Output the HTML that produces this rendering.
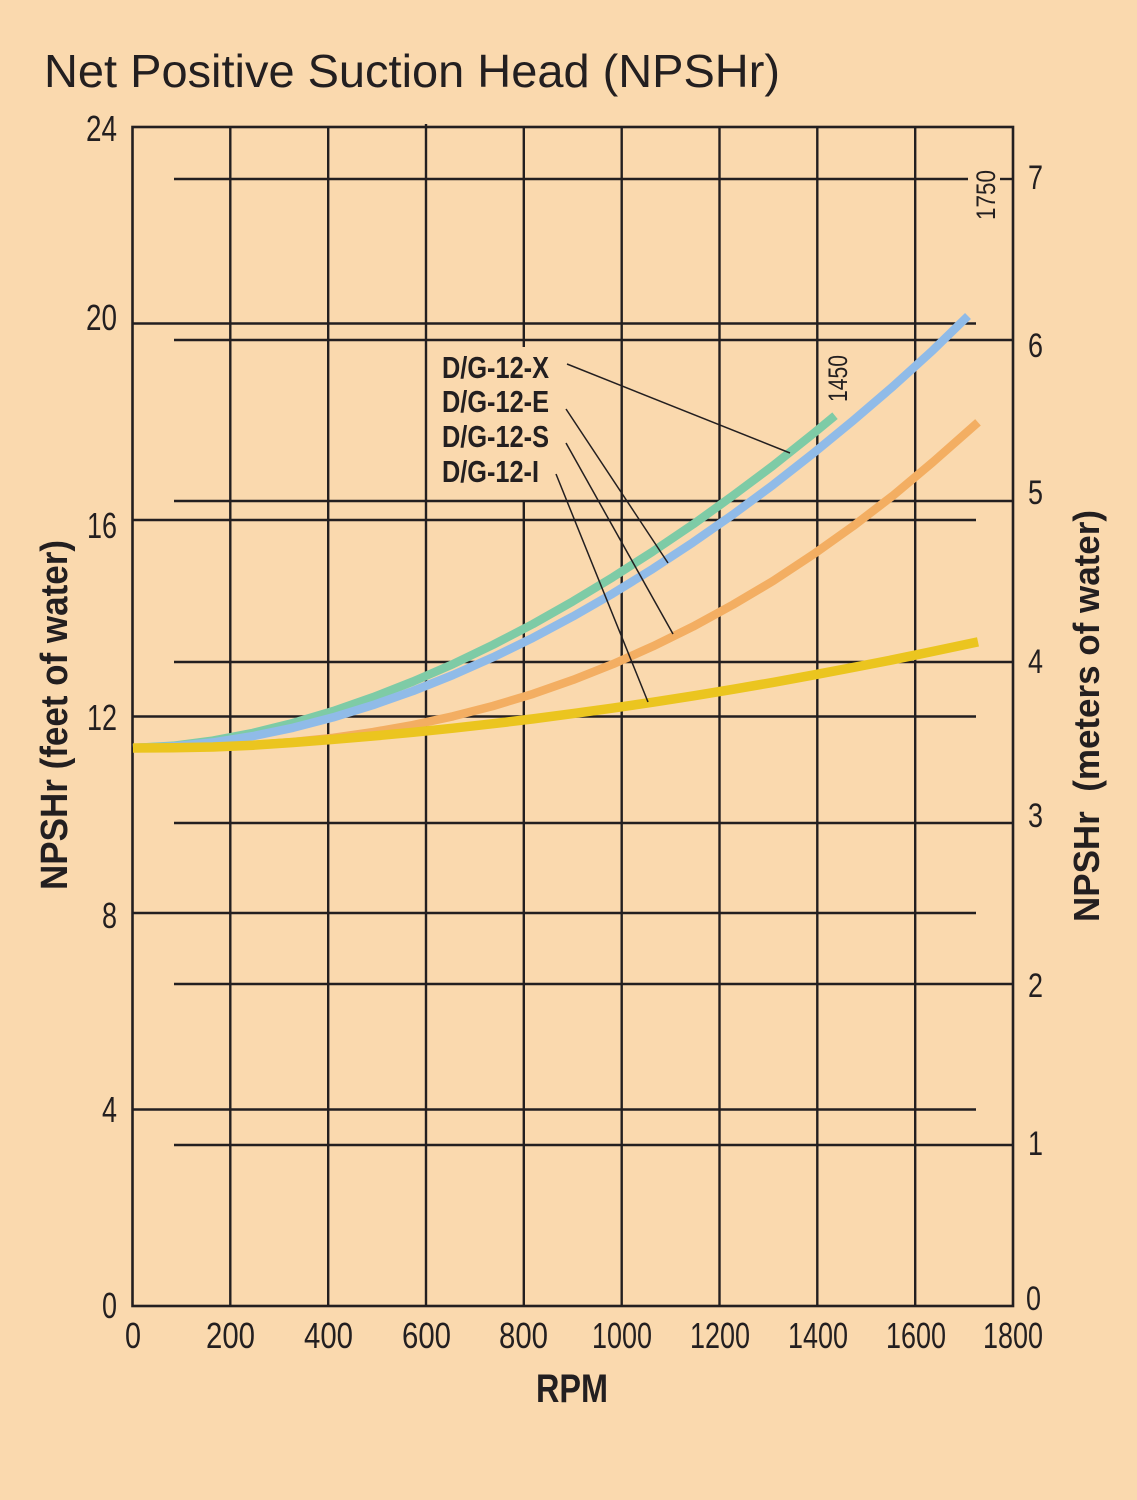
<!DOCTYPE html>
<html>
<head>
<meta charset="utf-8">
<style>
  html, body { margin:0; padding:0; background:#FAD9AE; }
  body { width:1137px; height:1500px; overflow:hidden; }
  svg { display:block; }
  text { font-family: "Liberation Sans", Arial, sans-serif; fill:#231F20; }
</style>
</head>
<body>
<svg width="1137" height="1500" viewBox="0 0 1137 1500" xmlns="http://www.w3.org/2000/svg">
  <rect x="0" y="0" width="1137" height="1500" fill="#FAD9AE"/>

  <!-- Title -->
  <text x="44" y="87" font-size="46" textLength="736" lengthAdjust="spacingAndGlyphs">Net Positive Suction Head (NPSHr)</text>

  <g stroke="#231F20" stroke-width="2.4" fill="none">
    <!-- feet lines -->
    <line x1="132.5" y1="323.5" x2="976" y2="323.5"/>
    <line x1="132.5" y1="520" x2="976" y2="520"/>
    <line x1="132.5" y1="716.5" x2="976" y2="716.5"/>
    <line x1="132.5" y1="913" x2="976" y2="913"/>
    <line x1="132.5" y1="1109.5" x2="976" y2="1109.5"/>
    <!-- meter lines -->
    <line x1="174" y1="179" x2="968" y2="179"/>
    <line x1="1000" y1="179" x2="1013" y2="179"/>
    <line x1="174" y1="340" x2="1013" y2="340"/>
    <line x1="174" y1="501" x2="1013" y2="501"/>
    <line x1="174" y1="662" x2="1013" y2="662"/>
    <line x1="174" y1="823" x2="1013" y2="823"/>
    <line x1="174" y1="984" x2="1013" y2="984"/>
    <line x1="174" y1="1145" x2="1013" y2="1145"/>
    <!-- vertical grid -->
    <line x1="230.3" y1="127" x2="230.3" y2="1306"/>
    <line x1="328.2" y1="127" x2="328.2" y2="1306"/>
    <line x1="426" y1="124" x2="426" y2="1306"/>
    <line x1="523.8" y1="127" x2="523.8" y2="347"/>
    <line x1="523.8" y1="501" x2="523.8" y2="1306"/>
    <line x1="621.7" y1="127" x2="621.7" y2="1306"/>
    <line x1="719.5" y1="127" x2="719.5" y2="1306"/>
    <line x1="817.3" y1="127" x2="817.3" y2="1306"/>
    <line x1="915.2" y1="127" x2="915.2" y2="1306"/>
  </g>
  <!-- frame -->
  <rect x="132.5" y="127" width="880.5" height="1179" fill="none" stroke="#231F20" stroke-width="2.6"/>

  <!-- curves -->
  <g fill="none" stroke-linecap="butt" stroke-linejoin="round">
    <!-- green D/G-12-X -->
    <polyline stroke="#7ECBA6" stroke-width="8.5" points="133,748 173,745.8 213,740.6 253,732.9 293,723 333,711.1 373,697.2 413,681.5 453,664.1 493,644.8 533,624 573,601.3 613,577.1 653,551.4 693,524.4 733,495.6 773,465.7 813,433.8 835,415.7"/>
    <!-- blue D/G-12-E -->
    <polyline stroke="#90BBE8" stroke-width="8.5" points="133,748 173,746.4 213,742.4 253,736.1 293,727.8 333,717.4 373,705.1 413,691 453,675 493,657.3 533,637.8 573,616.4 613,593.4 653,568.7 693,542.4 733,514.5 773,484.9 813,453.5 853,420.7 893,386.4 933,350.1 968,316"/>
    <!-- orange D/G-12-S -->
    <polyline stroke="#F3AE62" stroke-width="8.5" points="133,748 173,747.8 213,746.9 253,745 293,742 333,737.8 373,732.1 413,725 453,716.3 493,706 533,693.9 573,679.9 613,664.1 653,646.3 693,626.6 733,604.7 773,581 813,554.6 853,526.2 893,495.6 933,462 978,422.3"/>
    <!-- yellow D/G-12-I -->
    <polyline stroke="#EBC51F" stroke-width="9.5" points="133,748 173,747.8 213,747 253,745.2 293,742.5 333,739.4 373,736 413,732.3 453,728.2 493,723.7 533,718.9 573,713.6 613,708.1 653,702.2 693,695.9 733,689.3 773,682.4 813,675.1 853,667.5 893,659.7 933,651.4 978,641.9"/>
  </g>

  <!-- leader lines -->
  <g stroke="#231F20" stroke-width="1.5">
    <line x1="567" y1="364" x2="790" y2="453"/>
    <line x1="566" y1="409" x2="668" y2="563"/>
    <line x1="566" y1="443" x2="673" y2="634"/>
    <line x1="556" y1="474" x2="648" y2="702"/>
  </g>

  <!-- series labels -->
  <g font-size="31" font-weight="bold">
    <text x="442" y="378" textLength="107" lengthAdjust="spacingAndGlyphs">D/G-12-X</text>
    <text x="442" y="412" textLength="107" lengthAdjust="spacingAndGlyphs">D/G-12-E</text>
    <text x="442" y="447" textLength="107" lengthAdjust="spacingAndGlyphs">D/G-12-S</text>
    <text x="442" y="482" textLength="97" lengthAdjust="spacingAndGlyphs">D/G-12-I</text>
  </g>

  <!-- rpm markers -->
  <text transform="translate(995,220) rotate(-90)" x="0" y="0" font-size="27" textLength="50" lengthAdjust="spacingAndGlyphs">1750</text>
  <text transform="translate(847,402) rotate(-90)" x="0" y="0" font-size="27" textLength="47" lengthAdjust="spacingAndGlyphs">1450</text>

  <!-- left ticks -->
  <g font-size="36">
    <text x="86" y="141" textLength="31" lengthAdjust="spacingAndGlyphs">24</text>
    <text x="86" y="330" textLength="31" lengthAdjust="spacingAndGlyphs">20</text>
    <text x="87" y="538" textLength="30" lengthAdjust="spacingAndGlyphs">16</text>
    <text x="87" y="730" textLength="30" lengthAdjust="spacingAndGlyphs">12</text>
    <text x="102" y="928" textLength="15" lengthAdjust="spacingAndGlyphs">8</text>
    <text x="102" y="1122" textLength="15" lengthAdjust="spacingAndGlyphs">4</text>
    <text x="102" y="1318" textLength="15" lengthAdjust="spacingAndGlyphs">0</text>
  </g>

  <!-- right ticks -->
  <g font-size="34">
    <text x="1028" y="189" textLength="15" lengthAdjust="spacingAndGlyphs">7</text>
    <text x="1028" y="357" textLength="15" lengthAdjust="spacingAndGlyphs">6</text>
    <text x="1028" y="504" textLength="15" lengthAdjust="spacingAndGlyphs">5</text>
    <text x="1028" y="673" textLength="15" lengthAdjust="spacingAndGlyphs">4</text>
    <text x="1028" y="827" textLength="15" lengthAdjust="spacingAndGlyphs">3</text>
    <text x="1028" y="997" textLength="15" lengthAdjust="spacingAndGlyphs">2</text>
    <text x="1028" y="1155" textLength="15" lengthAdjust="spacingAndGlyphs">1</text>
    <text x="1026" y="1310" textLength="15" lengthAdjust="spacingAndGlyphs">0</text>
  </g>

  <!-- bottom ticks -->
  <g font-size="36">
    <text x="125" y="1348" textLength="16" lengthAdjust="spacingAndGlyphs">0</text>
    <text x="206" y="1348" textLength="49" lengthAdjust="spacingAndGlyphs">200</text>
    <text x="304" y="1348" textLength="49" lengthAdjust="spacingAndGlyphs">400</text>
    <text x="402" y="1348" textLength="49" lengthAdjust="spacingAndGlyphs">600</text>
    <text x="499" y="1348" textLength="49" lengthAdjust="spacingAndGlyphs">800</text>
    <text x="592" y="1348" textLength="60" lengthAdjust="spacingAndGlyphs">1000</text>
    <text x="690" y="1348" textLength="60" lengthAdjust="spacingAndGlyphs">1200</text>
    <text x="788" y="1348" textLength="60" lengthAdjust="spacingAndGlyphs">1400</text>
    <text x="886" y="1348" textLength="60" lengthAdjust="spacingAndGlyphs">1600</text>
    <text x="983" y="1348" textLength="60" lengthAdjust="spacingAndGlyphs">1800</text>
  </g>

  <!-- axis titles -->
  <text x="536" y="1402" font-size="40" font-weight="bold" textLength="72" lengthAdjust="spacingAndGlyphs">RPM</text>
  <text transform="translate(67,890) rotate(-90)" x="0" y="0" font-size="38" font-weight="bold" textLength="350" lengthAdjust="spacingAndGlyphs">NPSHr (feet of water)</text>
  <text transform="translate(1099,922) rotate(-90)" x="0" y="0" font-size="36" font-weight="bold" textLength="412" lengthAdjust="spacingAndGlyphs" style="white-space:pre">NPSHr  (meters of water)</text>
</svg>
</body>
</html>
